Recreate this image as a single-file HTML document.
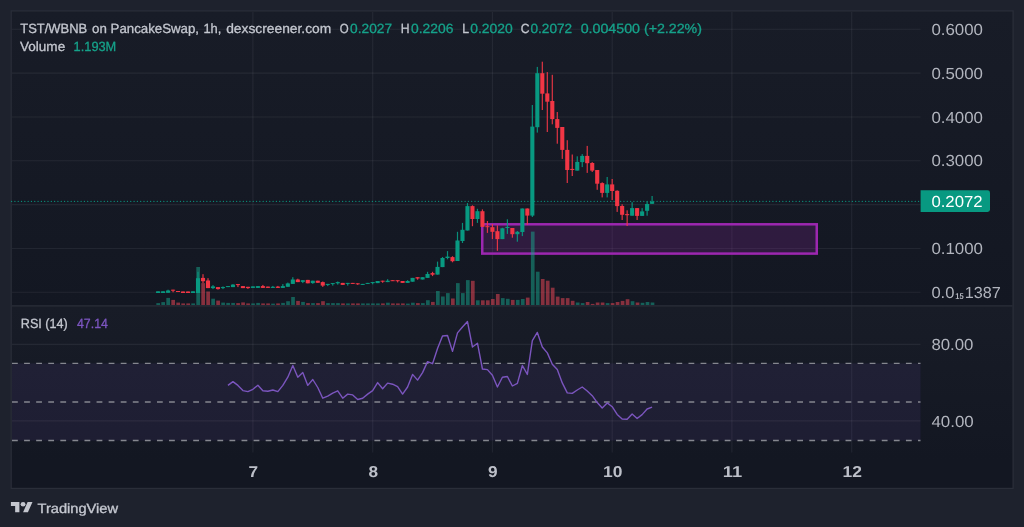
<!DOCTYPE html>
<html><head><meta charset="utf-8"><title>TST/WBNB chart</title>
<style>html,body{margin:0;padding:0;background:#1e222d;overflow:hidden}svg{display:block}text{font-family:"Liberation Sans",sans-serif;text-rendering:geometricPrecision}</style>
</head><body>
<svg width="1024" height="527" viewBox="0 0 1024 527">
<rect x="0" y="0" width="1024" height="527" fill="#1e222d"/>
<defs><linearGradient id="bg" x1="0" y1="0" x2="0" y2="1"><stop offset="0" stop-color="#181c27"/><stop offset="1" stop-color="#131722"/></linearGradient></defs>
<rect x="11.2" y="10.9" width="1001.7" height="294.9" fill="url(#bg)"/>
<rect x="11.2" y="305.8" width="1001.7" height="154.2" fill="url(#bg)"/>
<rect x="11.2" y="460" width="1001.7" height="28.4" fill="#131722"/>
<rect x="11.2" y="10.9" width="1001.9" height="477.5" fill="none" stroke="#2a2e39" stroke-width="1.2"/>
<g stroke="#f0f3fa" stroke-opacity="0.065" stroke-width="1.1">
<line x1="12" y1="29.3" x2="920.5" y2="29.3"/>
<line x1="12" y1="73.1" x2="920.5" y2="73.1"/>
<line x1="12" y1="117.0" x2="920.5" y2="117.0"/>
<line x1="12" y1="160.7" x2="920.5" y2="160.7"/>
<line x1="12" y1="204.6" x2="920.5" y2="204.6"/>
<line x1="12" y1="248.5" x2="920.5" y2="248.5"/>
<line x1="12" y1="292.3" x2="920.5" y2="292.3"/>
<line x1="12" y1="344.4" x2="920.5" y2="344.4"/>
<line x1="12" y1="420.9" x2="920.5" y2="420.9"/>
<line x1="252.9" y1="12" x2="252.9" y2="452.5"/>
<line x1="372.7" y1="12" x2="372.7" y2="452.5"/>
<line x1="492.4" y1="12" x2="492.4" y2="452.5"/>
<line x1="612.2" y1="12" x2="612.2" y2="452.5"/>
<line x1="731.9" y1="12" x2="731.9" y2="452.5"/>
<line x1="851.7" y1="12" x2="851.7" y2="452.5"/>
</g>
<line x1="12" y1="305.8" x2="1012.5" y2="305.8" stroke="#2a2e39" stroke-width="1.3"/>
<rect x="12" y="363.4" width="908.5" height="77.1" fill="#7e57c2" fill-opacity="0.1"/>
<g stroke="#85878f" stroke-width="1.3" stroke-dasharray="5.8 6.28">
<line x1="12" y1="363.4" x2="920.5" y2="363.4"/>
<line x1="12" y1="402.0" x2="920.5" y2="402.0"/>
<line x1="12" y1="440.5" x2="920.5" y2="440.5"/>
</g>
<rect x="482.25" y="224.3" width="334.5" height="29.3" fill="#9c27b0" fill-opacity="0.2" stroke="#9c27b0" stroke-width="2.5"/>
<rect x="156.34" y="303.1" width="3.7" height="1.9" fill="#18a78e" fill-opacity="0.5"/>
<rect x="161.33" y="302.1" width="3.7" height="2.9" fill="#18a78e" fill-opacity="0.5"/>
<rect x="166.33" y="297.9" width="3.7" height="7.1" fill="#18a78e" fill-opacity="0.5"/>
<rect x="171.32" y="299.9" width="3.7" height="5.1" fill="#f94a5a" fill-opacity="0.5"/>
<rect x="176.32" y="302.6" width="3.7" height="2.4" fill="#f94a5a" fill-opacity="0.5"/>
<rect x="181.31" y="303.4" width="3.7" height="1.6" fill="#f94a5a" fill-opacity="0.5"/>
<rect x="186.30" y="303.4" width="3.7" height="1.6" fill="#f94a5a" fill-opacity="0.5"/>
<rect x="191.30" y="303.4" width="3.7" height="1.6" fill="#18a78e" fill-opacity="0.5"/>
<rect x="196.29" y="267.0" width="3.7" height="38.0" fill="#18a78e" fill-opacity="0.5"/>
<rect x="201.29" y="283.1" width="3.7" height="21.9" fill="#f94a5a" fill-opacity="0.5"/>
<rect x="206.28" y="291.5" width="3.7" height="13.5" fill="#f94a5a" fill-opacity="0.5"/>
<rect x="211.27" y="298.7" width="3.7" height="6.3" fill="#18a78e" fill-opacity="0.5"/>
<rect x="216.27" y="300.6" width="3.7" height="4.4" fill="#f94a5a" fill-opacity="0.5"/>
<rect x="221.26" y="302.6" width="3.7" height="2.4" fill="#18a78e" fill-opacity="0.5"/>
<rect x="226.26" y="302.9" width="3.7" height="2.1" fill="#18a78e" fill-opacity="0.5"/>
<rect x="231.25" y="302.9" width="3.7" height="2.1" fill="#18a78e" fill-opacity="0.5"/>
<rect x="236.24" y="303.1" width="3.7" height="1.9" fill="#f94a5a" fill-opacity="0.5"/>
<rect x="241.24" y="302.4" width="3.7" height="2.6" fill="#f94a5a" fill-opacity="0.5"/>
<rect x="246.23" y="303.4" width="3.7" height="1.6" fill="#f94a5a" fill-opacity="0.5"/>
<rect x="251.22" y="303.4" width="3.7" height="1.6" fill="#18a78e" fill-opacity="0.5"/>
<rect x="256.22" y="302.9" width="3.7" height="2.1" fill="#18a78e" fill-opacity="0.5"/>
<rect x="261.21" y="303.4" width="3.7" height="1.6" fill="#f94a5a" fill-opacity="0.5"/>
<rect x="266.21" y="303.4" width="3.7" height="1.6" fill="#f94a5a" fill-opacity="0.5"/>
<rect x="271.20" y="303.6" width="3.7" height="1.4" fill="#18a78e" fill-opacity="0.5"/>
<rect x="276.19" y="303.4" width="3.7" height="1.6" fill="#f94a5a" fill-opacity="0.5"/>
<rect x="281.19" y="302.9" width="3.7" height="2.1" fill="#18a78e" fill-opacity="0.5"/>
<rect x="286.18" y="301.2" width="3.7" height="3.8" fill="#18a78e" fill-opacity="0.5"/>
<rect x="291.18" y="297.0" width="3.7" height="8.0" fill="#18a78e" fill-opacity="0.5"/>
<rect x="296.17" y="300.9" width="3.7" height="4.1" fill="#f94a5a" fill-opacity="0.5"/>
<rect x="301.16" y="301.9" width="3.7" height="3.1" fill="#18a78e" fill-opacity="0.5"/>
<rect x="306.16" y="303.1" width="3.7" height="1.9" fill="#f94a5a" fill-opacity="0.5"/>
<rect x="311.15" y="303.1" width="3.7" height="1.9" fill="#18a78e" fill-opacity="0.5"/>
<rect x="316.15" y="303.1" width="3.7" height="1.9" fill="#f94a5a" fill-opacity="0.5"/>
<rect x="321.14" y="301.2" width="3.7" height="3.8" fill="#f94a5a" fill-opacity="0.5"/>
<rect x="326.13" y="303.1" width="3.7" height="1.9" fill="#18a78e" fill-opacity="0.5"/>
<rect x="331.13" y="303.1" width="3.7" height="1.9" fill="#18a78e" fill-opacity="0.5"/>
<rect x="336.12" y="303.1" width="3.7" height="1.9" fill="#18a78e" fill-opacity="0.5"/>
<rect x="341.12" y="303.4" width="3.7" height="1.6" fill="#f94a5a" fill-opacity="0.5"/>
<rect x="346.11" y="303.4" width="3.7" height="1.6" fill="#18a78e" fill-opacity="0.5"/>
<rect x="351.10" y="303.4" width="3.7" height="1.6" fill="#f94a5a" fill-opacity="0.5"/>
<rect x="356.10" y="303.4" width="3.7" height="1.6" fill="#f94a5a" fill-opacity="0.5"/>
<rect x="361.09" y="303.4" width="3.7" height="1.6" fill="#18a78e" fill-opacity="0.5"/>
<rect x="366.09" y="303.4" width="3.7" height="1.6" fill="#18a78e" fill-opacity="0.5"/>
<rect x="371.08" y="303.4" width="3.7" height="1.6" fill="#18a78e" fill-opacity="0.5"/>
<rect x="376.07" y="303.4" width="3.7" height="1.6" fill="#18a78e" fill-opacity="0.5"/>
<rect x="381.07" y="303.4" width="3.7" height="1.6" fill="#f94a5a" fill-opacity="0.5"/>
<rect x="386.06" y="302.7" width="3.7" height="2.3" fill="#18a78e" fill-opacity="0.5"/>
<rect x="391.06" y="303.4" width="3.7" height="1.6" fill="#f94a5a" fill-opacity="0.5"/>
<rect x="396.05" y="303.4" width="3.7" height="1.6" fill="#f94a5a" fill-opacity="0.5"/>
<rect x="401.04" y="303.4" width="3.7" height="1.6" fill="#f94a5a" fill-opacity="0.5"/>
<rect x="406.04" y="303.6" width="3.7" height="1.4" fill="#18a78e" fill-opacity="0.5"/>
<rect x="411.03" y="302.7" width="3.7" height="2.3" fill="#18a78e" fill-opacity="0.5"/>
<rect x="416.03" y="303.1" width="3.7" height="1.9" fill="#f94a5a" fill-opacity="0.5"/>
<rect x="421.02" y="303.1" width="3.7" height="1.9" fill="#18a78e" fill-opacity="0.5"/>
<rect x="426.01" y="300.2" width="3.7" height="4.8" fill="#18a78e" fill-opacity="0.5"/>
<rect x="431.01" y="301.9" width="3.7" height="3.1" fill="#f94a5a" fill-opacity="0.5"/>
<rect x="436.00" y="291.0" width="3.7" height="14.0" fill="#18a78e" fill-opacity="0.5"/>
<rect x="441.00" y="296.5" width="3.7" height="8.5" fill="#18a78e" fill-opacity="0.5"/>
<rect x="445.99" y="293.1" width="3.7" height="11.9" fill="#18a78e" fill-opacity="0.5"/>
<rect x="450.98" y="298.5" width="3.7" height="6.5" fill="#f94a5a" fill-opacity="0.5"/>
<rect x="455.98" y="283.1" width="3.7" height="21.9" fill="#18a78e" fill-opacity="0.5"/>
<rect x="460.97" y="293.1" width="3.7" height="11.9" fill="#18a78e" fill-opacity="0.5"/>
<rect x="465.96" y="280.1" width="3.7" height="24.9" fill="#18a78e" fill-opacity="0.5"/>
<rect x="470.96" y="280.8" width="3.7" height="24.2" fill="#f94a5a" fill-opacity="0.5"/>
<rect x="475.95" y="300.3" width="3.7" height="4.7" fill="#18a78e" fill-opacity="0.5"/>
<rect x="480.95" y="300.3" width="3.7" height="4.7" fill="#f94a5a" fill-opacity="0.5"/>
<rect x="485.94" y="300.3" width="3.7" height="4.7" fill="#f94a5a" fill-opacity="0.5"/>
<rect x="490.93" y="299.0" width="3.7" height="6.0" fill="#f94a5a" fill-opacity="0.5"/>
<rect x="495.93" y="294.0" width="3.7" height="11.0" fill="#f94a5a" fill-opacity="0.5"/>
<rect x="500.92" y="298.1" width="3.7" height="6.9" fill="#18a78e" fill-opacity="0.5"/>
<rect x="505.92" y="298.8" width="3.7" height="6.2" fill="#18a78e" fill-opacity="0.5"/>
<rect x="510.91" y="299.9" width="3.7" height="5.1" fill="#f94a5a" fill-opacity="0.5"/>
<rect x="515.90" y="299.9" width="3.7" height="5.1" fill="#18a78e" fill-opacity="0.5"/>
<rect x="520.90" y="299.0" width="3.7" height="6.0" fill="#18a78e" fill-opacity="0.5"/>
<rect x="525.89" y="297.6" width="3.7" height="7.4" fill="#f94a5a" fill-opacity="0.5"/>
<rect x="530.89" y="231.6" width="3.7" height="73.4" fill="#18a78e" fill-opacity="0.5"/>
<rect x="535.88" y="271.7" width="3.7" height="33.3" fill="#18a78e" fill-opacity="0.5"/>
<rect x="540.87" y="279.0" width="3.7" height="26.0" fill="#f94a5a" fill-opacity="0.5"/>
<rect x="545.86" y="280.7" width="3.7" height="24.3" fill="#f94a5a" fill-opacity="0.5"/>
<rect x="550.85" y="287.7" width="3.7" height="17.3" fill="#f94a5a" fill-opacity="0.5"/>
<rect x="555.84" y="296.6" width="3.7" height="8.4" fill="#f94a5a" fill-opacity="0.5"/>
<rect x="560.83" y="298.1" width="3.7" height="6.9" fill="#f94a5a" fill-opacity="0.5"/>
<rect x="565.82" y="298.1" width="3.7" height="6.9" fill="#f94a5a" fill-opacity="0.5"/>
<rect x="570.81" y="300.8" width="3.7" height="4.2" fill="#f94a5a" fill-opacity="0.5"/>
<rect x="575.80" y="302.5" width="3.7" height="2.5" fill="#18a78e" fill-opacity="0.5"/>
<rect x="580.79" y="303.1" width="3.7" height="1.9" fill="#18a78e" fill-opacity="0.5"/>
<rect x="585.78" y="302.0" width="3.7" height="3.0" fill="#f94a5a" fill-opacity="0.5"/>
<rect x="590.77" y="303.9" width="3.7" height="1.1" fill="#f94a5a" fill-opacity="0.5"/>
<rect x="595.76" y="302.5" width="3.7" height="2.5" fill="#f94a5a" fill-opacity="0.5"/>
<rect x="600.75" y="302.5" width="3.7" height="2.5" fill="#f94a5a" fill-opacity="0.5"/>
<rect x="605.74" y="303.1" width="3.7" height="1.9" fill="#18a78e" fill-opacity="0.5"/>
<rect x="610.73" y="303.1" width="3.7" height="1.9" fill="#f94a5a" fill-opacity="0.5"/>
<rect x="615.72" y="302.0" width="3.7" height="3.0" fill="#f94a5a" fill-opacity="0.5"/>
<rect x="620.71" y="300.9" width="3.7" height="4.1" fill="#f94a5a" fill-opacity="0.5"/>
<rect x="625.70" y="299.2" width="3.7" height="5.8" fill="#f94a5a" fill-opacity="0.5"/>
<rect x="630.69" y="301.2" width="3.7" height="3.8" fill="#18a78e" fill-opacity="0.5"/>
<rect x="635.68" y="302.5" width="3.7" height="2.5" fill="#f94a5a" fill-opacity="0.5"/>
<rect x="640.67" y="302.8" width="3.7" height="2.2" fill="#18a78e" fill-opacity="0.5"/>
<rect x="645.66" y="302.0" width="3.7" height="3.0" fill="#18a78e" fill-opacity="0.5"/>
<rect x="650.65" y="302.5" width="3.7" height="2.5" fill="#18a78e" fill-opacity="0.5"/>
<line x1="11.6" y1="201.35" x2="920.5" y2="201.35" stroke="#089981" stroke-width="1.35" stroke-linecap="round" stroke-dasharray="0.01 3.3"/>
<rect x="157.49" y="291.3" width="1.2" height="1.7" fill="#089981" fill-opacity="0.92"/>
<rect x="156.04" y="291.3" width="4.1" height="1.7" fill="#089981"/>
<rect x="162.48" y="291.3" width="1.2" height="1.7" fill="#089981" fill-opacity="0.92"/>
<rect x="161.03" y="291.3" width="4.1" height="1.7" fill="#089981"/>
<rect x="167.47" y="289.7" width="1.2" height="3.1" fill="#089981" fill-opacity="0.92"/>
<rect x="166.02" y="290.5" width="4.1" height="2.3" fill="#089981"/>
<rect x="172.46" y="289.7" width="1.2" height="2.6" fill="#f23645" fill-opacity="0.92"/>
<rect x="171.01" y="289.7" width="4.1" height="1.0" fill="#f23645"/>
<rect x="177.45" y="291.0" width="1.2" height="1.0" fill="#f23645" fill-opacity="0.92"/>
<rect x="176.00" y="291.0" width="4.1" height="1.0" fill="#f23645"/>
<rect x="182.44" y="291.5" width="1.2" height="1.5" fill="#f23645" fill-opacity="0.92"/>
<rect x="180.99" y="291.5" width="4.1" height="1.5" fill="#f23645"/>
<rect x="187.43" y="291.5" width="1.2" height="1.5" fill="#f23645" fill-opacity="0.92"/>
<rect x="185.98" y="291.5" width="4.1" height="1.5" fill="#f23645"/>
<rect x="192.42" y="291.3" width="1.2" height="1.7" fill="#089981" fill-opacity="0.92"/>
<rect x="190.97" y="291.3" width="4.1" height="1.7" fill="#089981"/>
<rect x="197.41" y="271.8" width="1.2" height="21.2" fill="#089981" fill-opacity="0.92"/>
<rect x="195.96" y="278.2" width="4.1" height="14.8" fill="#089981"/>
<rect x="202.40" y="274.2" width="1.2" height="8.9" fill="#f23645" fill-opacity="0.92"/>
<rect x="200.95" y="277.9" width="4.1" height="3.3" fill="#f23645"/>
<rect x="207.39" y="278.2" width="1.2" height="9.9" fill="#f23645" fill-opacity="0.92"/>
<rect x="205.94" y="280.5" width="4.1" height="7.6" fill="#f23645"/>
<rect x="212.38" y="285.1" width="1.2" height="4.0" fill="#089981" fill-opacity="0.92"/>
<rect x="210.93" y="286.4" width="4.1" height="1.7" fill="#089981"/>
<rect x="217.37" y="287.1" width="1.2" height="2.5" fill="#f23645" fill-opacity="0.92"/>
<rect x="215.92" y="287.1" width="4.1" height="2.0" fill="#f23645"/>
<rect x="222.36" y="286.4" width="1.2" height="2.7" fill="#089981" fill-opacity="0.92"/>
<rect x="220.91" y="287.1" width="4.1" height="1.0" fill="#089981"/>
<rect x="227.35" y="286.1" width="1.2" height="1.0" fill="#089981" fill-opacity="0.92"/>
<rect x="225.90" y="286.1" width="4.1" height="1.0" fill="#089981"/>
<rect x="232.34" y="284.1" width="1.2" height="3.0" fill="#089981" fill-opacity="0.92"/>
<rect x="230.89" y="284.6" width="4.1" height="2.5" fill="#089981"/>
<rect x="237.33" y="284.1" width="1.2" height="3.0" fill="#f23645" fill-opacity="0.92"/>
<rect x="235.88" y="284.1" width="4.1" height="1.0" fill="#f23645"/>
<rect x="242.32" y="286.1" width="1.2" height="2.0" fill="#f23645" fill-opacity="0.92"/>
<rect x="240.87" y="286.1" width="4.1" height="2.0" fill="#f23645"/>
<rect x="247.31" y="286.8" width="1.2" height="2.1" fill="#f23645" fill-opacity="0.92"/>
<rect x="245.86" y="286.8" width="4.1" height="1.3" fill="#f23645"/>
<rect x="252.30" y="286.4" width="1.2" height="1.5" fill="#089981" fill-opacity="0.92"/>
<rect x="250.85" y="286.4" width="4.1" height="1.5" fill="#089981"/>
<rect x="257.29" y="286.1" width="1.2" height="1.8" fill="#089981" fill-opacity="0.92"/>
<rect x="255.84" y="286.1" width="4.1" height="1.8" fill="#089981"/>
<rect x="262.28" y="284.9" width="1.2" height="3.0" fill="#f23645" fill-opacity="0.92"/>
<rect x="260.83" y="286.1" width="4.1" height="1.8" fill="#f23645"/>
<rect x="267.27" y="286.6" width="1.2" height="1.3" fill="#f23645" fill-opacity="0.92"/>
<rect x="265.82" y="286.6" width="4.1" height="1.3" fill="#f23645"/>
<rect x="272.26" y="285.9" width="1.2" height="2.0" fill="#089981" fill-opacity="0.92"/>
<rect x="270.81" y="286.8" width="4.1" height="1.1" fill="#089981"/>
<rect x="277.25" y="285.9" width="1.2" height="2.0" fill="#f23645" fill-opacity="0.92"/>
<rect x="275.80" y="286.6" width="4.1" height="1.3" fill="#f23645"/>
<rect x="282.24" y="284.1" width="1.2" height="3.8" fill="#089981" fill-opacity="0.92"/>
<rect x="280.79" y="286.1" width="4.1" height="1.8" fill="#089981"/>
<rect x="287.23" y="282.6" width="1.2" height="4.2" fill="#089981" fill-opacity="0.92"/>
<rect x="285.78" y="283.4" width="4.1" height="3.4" fill="#089981"/>
<rect x="292.22" y="277.2" width="1.2" height="6.7" fill="#089981" fill-opacity="0.92"/>
<rect x="290.77" y="279.5" width="4.1" height="4.4" fill="#089981"/>
<rect x="297.21" y="278.7" width="1.2" height="3.4" fill="#f23645" fill-opacity="0.92"/>
<rect x="295.76" y="279.5" width="4.1" height="2.6" fill="#f23645"/>
<rect x="302.20" y="280.2" width="1.2" height="2.9" fill="#089981" fill-opacity="0.92"/>
<rect x="300.75" y="280.2" width="4.1" height="1.7" fill="#089981"/>
<rect x="307.19" y="279.9" width="1.2" height="3.4" fill="#f23645" fill-opacity="0.92"/>
<rect x="305.74" y="279.9" width="4.1" height="3.4" fill="#f23645"/>
<rect x="312.18" y="280.7" width="1.2" height="3.1" fill="#089981" fill-opacity="0.92"/>
<rect x="310.73" y="280.7" width="4.1" height="2.4" fill="#089981"/>
<rect x="317.17" y="280.7" width="1.2" height="2.1" fill="#f23645" fill-opacity="0.92"/>
<rect x="315.72" y="280.7" width="4.1" height="2.1" fill="#f23645"/>
<rect x="322.16" y="281.5" width="1.2" height="5.4" fill="#f23645" fill-opacity="0.92"/>
<rect x="320.71" y="282.1" width="4.1" height="3.5" fill="#f23645"/>
<rect x="327.15" y="283.9" width="1.2" height="2.2" fill="#089981" fill-opacity="0.92"/>
<rect x="325.70" y="283.9" width="4.1" height="1.0" fill="#089981"/>
<rect x="332.14" y="283.1" width="1.2" height="2.5" fill="#089981" fill-opacity="0.92"/>
<rect x="330.69" y="283.1" width="4.1" height="1.0" fill="#089981"/>
<rect x="337.13" y="281.5" width="1.2" height="3.1" fill="#089981" fill-opacity="0.92"/>
<rect x="335.68" y="282.1" width="4.1" height="1.2" fill="#089981"/>
<rect x="342.12" y="282.9" width="1.2" height="2.0" fill="#f23645" fill-opacity="0.92"/>
<rect x="340.67" y="282.9" width="4.1" height="2.0" fill="#f23645"/>
<rect x="347.11" y="282.9" width="1.2" height="2.7" fill="#089981" fill-opacity="0.92"/>
<rect x="345.66" y="282.9" width="4.1" height="1.0" fill="#089981"/>
<rect x="352.10" y="282.9" width="1.2" height="1.0" fill="#f23645" fill-opacity="0.92"/>
<rect x="350.65" y="282.9" width="4.1" height="1.0" fill="#f23645"/>
<rect x="357.09" y="283.3" width="1.2" height="1.6" fill="#f23645" fill-opacity="0.92"/>
<rect x="355.64" y="283.3" width="4.1" height="1.0" fill="#f23645"/>
<rect x="362.08" y="283.9" width="1.2" height="1.0" fill="#089981" fill-opacity="0.92"/>
<rect x="360.63" y="283.9" width="4.1" height="1.0" fill="#089981"/>
<rect x="367.07" y="282.9" width="1.2" height="1.0" fill="#089981" fill-opacity="0.92"/>
<rect x="365.62" y="282.9" width="4.1" height="1.0" fill="#089981"/>
<rect x="372.06" y="282.1" width="1.2" height="2.2" fill="#089981" fill-opacity="0.92"/>
<rect x="370.61" y="282.1" width="4.1" height="1.0" fill="#089981"/>
<rect x="377.05" y="281.0" width="1.2" height="2.1" fill="#089981" fill-opacity="0.92"/>
<rect x="375.60" y="281.0" width="4.1" height="2.1" fill="#089981"/>
<rect x="382.04" y="280.7" width="1.2" height="2.1" fill="#f23645" fill-opacity="0.92"/>
<rect x="380.59" y="280.7" width="4.1" height="1.0" fill="#f23645"/>
<rect x="387.03" y="279.2" width="1.2" height="2.9" fill="#089981" fill-opacity="0.92"/>
<rect x="385.58" y="280.7" width="4.1" height="1.4" fill="#089981"/>
<rect x="392.02" y="280.2" width="1.2" height="0.8" fill="#f23645" fill-opacity="0.92"/>
<rect x="390.57" y="280.2" width="4.1" height="1.0" fill="#f23645"/>
<rect x="397.01" y="280.2" width="1.2" height="2.2" fill="#f23645" fill-opacity="0.92"/>
<rect x="395.56" y="280.2" width="4.1" height="1.0" fill="#f23645"/>
<rect x="402.00" y="281.0" width="1.2" height="1.9" fill="#f23645" fill-opacity="0.92"/>
<rect x="400.55" y="281.0" width="4.1" height="1.9" fill="#f23645"/>
<rect x="406.99" y="280.2" width="1.2" height="2.7" fill="#089981" fill-opacity="0.92"/>
<rect x="405.54" y="281.0" width="4.1" height="1.9" fill="#089981"/>
<rect x="411.98" y="277.9" width="1.2" height="3.8" fill="#089981" fill-opacity="0.92"/>
<rect x="410.53" y="277.9" width="4.1" height="3.8" fill="#089981"/>
<rect x="416.97" y="277.2" width="1.2" height="2.5" fill="#f23645" fill-opacity="0.92"/>
<rect x="415.52" y="277.2" width="4.1" height="1.3" fill="#f23645"/>
<rect x="421.96" y="277.2" width="1.2" height="2.3" fill="#089981" fill-opacity="0.92"/>
<rect x="420.51" y="277.2" width="4.1" height="2.3" fill="#089981"/>
<rect x="426.95" y="271.8" width="1.2" height="6.1" fill="#089981" fill-opacity="0.92"/>
<rect x="425.50" y="274.0" width="4.1" height="3.9" fill="#089981"/>
<rect x="431.94" y="271.8" width="1.2" height="4.3" fill="#f23645" fill-opacity="0.92"/>
<rect x="430.49" y="273.1" width="4.1" height="1.6" fill="#f23645"/>
<rect x="436.93" y="261.6" width="1.2" height="13.0" fill="#089981" fill-opacity="0.92"/>
<rect x="435.48" y="266.9" width="4.1" height="7.7" fill="#089981"/>
<rect x="441.92" y="257.0" width="1.2" height="10.1" fill="#089981" fill-opacity="0.92"/>
<rect x="440.47" y="258.0" width="4.1" height="9.1" fill="#089981"/>
<rect x="446.91" y="251.1" width="1.2" height="8.2" fill="#089981" fill-opacity="0.92"/>
<rect x="445.46" y="256.6" width="4.1" height="1.4" fill="#089981"/>
<rect x="451.90" y="256.2" width="1.2" height="6.1" fill="#f23645" fill-opacity="0.92"/>
<rect x="450.45" y="257.1" width="4.1" height="4.1" fill="#f23645"/>
<rect x="456.89" y="231.8" width="1.2" height="29.2" fill="#089981" fill-opacity="0.92"/>
<rect x="455.44" y="240.5" width="4.1" height="20.5" fill="#089981"/>
<rect x="461.88" y="222.9" width="1.2" height="20.1" fill="#089981" fill-opacity="0.92"/>
<rect x="460.43" y="229.8" width="4.1" height="11.2" fill="#089981"/>
<rect x="466.87" y="203.1" width="1.2" height="27.4" fill="#089981" fill-opacity="0.92"/>
<rect x="465.42" y="206.1" width="4.1" height="24.4" fill="#089981"/>
<rect x="471.86" y="205.3" width="1.2" height="20.9" fill="#f23645" fill-opacity="0.92"/>
<rect x="470.41" y="206.1" width="4.1" height="12.9" fill="#f23645"/>
<rect x="476.85" y="208.8" width="1.2" height="14.1" fill="#089981" fill-opacity="0.92"/>
<rect x="475.40" y="211.2" width="4.1" height="7.8" fill="#089981"/>
<rect x="481.84" y="209.4" width="1.2" height="17.5" fill="#f23645" fill-opacity="0.92"/>
<rect x="480.39" y="211.2" width="4.1" height="15.7" fill="#f23645"/>
<rect x="486.83" y="221.0" width="1.2" height="11.9" fill="#f23645" fill-opacity="0.92"/>
<rect x="485.38" y="226.2" width="4.1" height="1.0" fill="#f23645"/>
<rect x="491.82" y="224.0" width="1.2" height="15.1" fill="#f23645" fill-opacity="0.92"/>
<rect x="490.37" y="227.2" width="4.1" height="4.6" fill="#f23645"/>
<rect x="496.81" y="225.3" width="1.2" height="25.5" fill="#f23645" fill-opacity="0.92"/>
<rect x="495.36" y="231.2" width="4.1" height="7.9" fill="#f23645"/>
<rect x="501.80" y="227.8" width="1.2" height="11.3" fill="#089981" fill-opacity="0.92"/>
<rect x="500.35" y="228.3" width="4.1" height="10.8" fill="#089981"/>
<rect x="506.79" y="219.3" width="1.2" height="14.6" fill="#089981" fill-opacity="0.92"/>
<rect x="505.34" y="226.9" width="4.1" height="1.1" fill="#089981"/>
<rect x="511.78" y="228.0" width="1.2" height="9.7" fill="#f23645" fill-opacity="0.92"/>
<rect x="510.33" y="228.0" width="4.1" height="6.2" fill="#f23645"/>
<rect x="516.77" y="231.0" width="1.2" height="10.7" fill="#089981" fill-opacity="0.92"/>
<rect x="515.32" y="231.8" width="4.1" height="2.4" fill="#089981"/>
<rect x="521.76" y="208.5" width="1.2" height="27.6" fill="#089981" fill-opacity="0.92"/>
<rect x="520.31" y="208.5" width="4.1" height="23.5" fill="#089981"/>
<rect x="526.75" y="208.5" width="1.2" height="16.2" fill="#f23645" fill-opacity="0.92"/>
<rect x="525.30" y="208.5" width="4.1" height="7.1" fill="#f23645"/>
<rect x="531.74" y="105.0" width="1.2" height="112.0" fill="#089981" fill-opacity="0.92"/>
<rect x="530.29" y="126.6" width="4.1" height="89.0" fill="#089981"/>
<rect x="536.73" y="66.9" width="1.2" height="65.7" fill="#089981" fill-opacity="0.92"/>
<rect x="535.28" y="73.2" width="4.1" height="54.0" fill="#089981"/>
<rect x="541.72" y="61.7" width="1.2" height="48.3" fill="#f23645" fill-opacity="0.92"/>
<rect x="540.27" y="73.2" width="4.1" height="20.5" fill="#f23645"/>
<rect x="546.71" y="72.1" width="1.2" height="59.9" fill="#f23645" fill-opacity="0.92"/>
<rect x="545.26" y="93.4" width="4.1" height="8.3" fill="#f23645"/>
<rect x="551.70" y="74.8" width="1.2" height="49.5" fill="#f23645" fill-opacity="0.92"/>
<rect x="550.25" y="101.0" width="4.1" height="18.1" fill="#f23645"/>
<rect x="556.69" y="112.0" width="1.2" height="31.7" fill="#f23645" fill-opacity="0.92"/>
<rect x="555.24" y="119.1" width="4.1" height="8.8" fill="#f23645"/>
<rect x="561.68" y="127.0" width="1.2" height="31.9" fill="#f23645" fill-opacity="0.92"/>
<rect x="560.23" y="127.0" width="4.1" height="22.9" fill="#f23645"/>
<rect x="566.67" y="140.2" width="1.2" height="42.8" fill="#f23645" fill-opacity="0.92"/>
<rect x="565.22" y="149.9" width="4.1" height="20.1" fill="#f23645"/>
<rect x="571.66" y="154.5" width="1.2" height="21.5" fill="#f23645" fill-opacity="0.92"/>
<rect x="570.21" y="168.9" width="4.1" height="1.1" fill="#f23645"/>
<rect x="576.65" y="156.3" width="1.2" height="14.3" fill="#089981" fill-opacity="0.92"/>
<rect x="575.20" y="161.9" width="4.1" height="8.7" fill="#089981"/>
<rect x="581.64" y="154.1" width="1.2" height="13.0" fill="#089981" fill-opacity="0.92"/>
<rect x="580.19" y="155.9" width="4.1" height="6.2" fill="#089981"/>
<rect x="586.63" y="145.9" width="1.2" height="27.0" fill="#f23645" fill-opacity="0.92"/>
<rect x="585.18" y="155.9" width="4.1" height="7.3" fill="#f23645"/>
<rect x="591.62" y="162.1" width="1.2" height="9.9" fill="#f23645" fill-opacity="0.92"/>
<rect x="590.17" y="163.0" width="4.1" height="7.6" fill="#f23645"/>
<rect x="596.61" y="170.0" width="1.2" height="19.8" fill="#f23645" fill-opacity="0.92"/>
<rect x="595.16" y="170.0" width="4.1" height="13.7" fill="#f23645"/>
<rect x="601.60" y="182.3" width="1.2" height="15.1" fill="#f23645" fill-opacity="0.92"/>
<rect x="600.15" y="183.1" width="4.1" height="9.8" fill="#f23645"/>
<rect x="606.59" y="177.0" width="1.2" height="20.4" fill="#089981" fill-opacity="0.92"/>
<rect x="605.14" y="184.4" width="4.1" height="8.5" fill="#089981"/>
<rect x="611.58" y="179.0" width="1.2" height="21.0" fill="#f23645" fill-opacity="0.92"/>
<rect x="610.13" y="184.4" width="4.1" height="6.6" fill="#f23645"/>
<rect x="616.57" y="190.3" width="1.2" height="21.6" fill="#f23645" fill-opacity="0.92"/>
<rect x="615.12" y="190.8" width="4.1" height="15.3" fill="#f23645"/>
<rect x="621.56" y="204.3" width="1.2" height="15.7" fill="#f23645" fill-opacity="0.92"/>
<rect x="620.11" y="206.0" width="4.1" height="8.8" fill="#f23645"/>
<rect x="626.55" y="210.3" width="1.2" height="15.7" fill="#f23645" fill-opacity="0.92"/>
<rect x="625.10" y="214.1" width="4.1" height="1.1" fill="#f23645"/>
<rect x="631.54" y="202.2" width="1.2" height="13.5" fill="#089981" fill-opacity="0.92"/>
<rect x="630.09" y="208.1" width="4.1" height="7.6" fill="#089981"/>
<rect x="636.53" y="208.1" width="1.2" height="11.9" fill="#f23645" fill-opacity="0.92"/>
<rect x="635.08" y="208.1" width="4.1" height="7.8" fill="#f23645"/>
<rect x="641.52" y="208.1" width="1.2" height="7.8" fill="#089981" fill-opacity="0.92"/>
<rect x="640.07" y="211.4" width="4.1" height="4.5" fill="#089981"/>
<rect x="646.51" y="201.4" width="1.2" height="14.3" fill="#089981" fill-opacity="0.92"/>
<rect x="645.06" y="204.0" width="4.1" height="6.8" fill="#089981"/>
<rect x="651.50" y="196.0" width="1.2" height="7.8" fill="#089981" fill-opacity="0.92"/>
<rect x="650.05" y="201.6" width="4.1" height="2.2" fill="#089981"/>
<polyline points="227.95,385.4 232.94,381.6 237.93,385.4 242.92,390.6 247.91,391.6 252.90,389.3 257.89,385.2 262.88,390.8 267.87,391.3 272.86,390.0 277.85,391.6 282.84,385.4 287.83,377.2 292.82,365.5 297.81,377.2 302.80,372.6 307.79,385.4 312.78,379.5 317.77,387.5 322.76,398.2 327.75,396.2 332.74,393.1 337.73,390.8 342.72,398.2 347.71,394.1 352.70,394.9 357.69,399.5 362.68,398.2 367.67,394.1 372.66,390.6 377.65,382.6 382.64,388.8 387.63,383.1 392.62,384.2 397.61,386.7 402.60,394.1 407.59,387.0 412.58,374.4 417.57,380.1 422.56,372.6 427.55,361.6 432.54,363.7 437.53,348.5 442.52,336.0 447.51,335.5 452.50,351.4 457.49,332.9 462.48,327.0 467.47,321.6 472.46,347.0 477.45,343.2 482.44,369.0 487.43,369.6 492.42,375.2 497.41,387.0 502.40,377.2 507.39,376.5 512.38,386.0 517.37,383.4 522.36,365.5 527.35,374.4 532.34,340.6 537.33,332.4 542.32,347.0 547.31,352.9 552.30,364.2 557.29,369.6 562.28,382.9 567.27,392.9 572.26,393.4 577.25,390.0 582.24,387.0 587.23,391.0 592.22,395.7 597.21,402.6 602.20,408.0 607.19,402.9 612.18,406.7 617.17,414.4 622.16,419.0 627.15,419.2 632.14,413.9 637.13,418.5 642.12,414.6 647.11,409.0 652.10,407.2" fill="none" stroke="#7b55be" stroke-width="1.4" stroke-linejoin="round"/>
<path d="M920.6 190.3H987.6Q990 190.3 990 192.7V209.5Q990 211.9 987.6 211.9H920.6Z" fill="#089981"/>
<g opacity="0.999">
<text x="931.4" y="35.0" font-size="16.0" fill="#b2b5be" textLength="51.5" lengthAdjust="spacingAndGlyphs">0.6000</text>
<text x="931.4" y="78.8" font-size="16.0" fill="#b2b5be" textLength="51.5" lengthAdjust="spacingAndGlyphs">0.5000</text>
<text x="931.4" y="122.7" font-size="16.0" fill="#b2b5be" textLength="51.5" lengthAdjust="spacingAndGlyphs">0.4000</text>
<text x="931.4" y="166.4" font-size="16.0" fill="#b2b5be" textLength="51.5" lengthAdjust="spacingAndGlyphs">0.3000</text>
<text x="931.4" y="254.2" font-size="16.0" fill="#b2b5be" textLength="51.5" lengthAdjust="spacingAndGlyphs">0.1000</text>
<text x="931.4" y="206.9" font-size="16.0" fill="#ffffff" textLength="51.2" lengthAdjust="spacingAndGlyphs">0.2072</text>
<text x="931.4" y="297.6" font-size="16.0" fill="#b2b5be" textLength="23.0" lengthAdjust="spacingAndGlyphs">0.0</text>
<text x="955.2" y="298.8" font-size="8.4" fill="#b2b5be" textLength="8.4" lengthAdjust="spacingAndGlyphs" font-weight="bold">15</text>
<text x="964.8" y="297.6" font-size="16.0" fill="#b2b5be" textLength="36.0" lengthAdjust="spacingAndGlyphs">1387</text>
<text x="931.4" y="349.7" font-size="16.0" fill="#b2b5be" textLength="42.0" lengthAdjust="spacingAndGlyphs">80.00</text>
<text x="931.4" y="427.1" font-size="16.0" fill="#b2b5be" textLength="42.3" lengthAdjust="spacingAndGlyphs">40.00</text>
<text x="248.6" y="476.7" font-size="15.8" fill="#bec1ca" textLength="9.6" lengthAdjust="spacingAndGlyphs" font-weight="bold">7</text>
<text x="368.4" y="476.7" font-size="15.8" fill="#bec1ca" textLength="9.6" lengthAdjust="spacingAndGlyphs" font-weight="bold">8</text>
<text x="488.1" y="476.7" font-size="15.8" fill="#bec1ca" textLength="9.6" lengthAdjust="spacingAndGlyphs" font-weight="bold">9</text>
<text x="603.0" y="476.7" font-size="15.8" fill="#bec1ca" textLength="19.4" lengthAdjust="spacingAndGlyphs" font-weight="bold">10</text>
<text x="722.7" y="476.7" font-size="15.8" fill="#bec1ca" textLength="19.4" lengthAdjust="spacingAndGlyphs" font-weight="bold">11</text>
<text x="842.5" y="476.7" font-size="15.8" fill="#bec1ca" textLength="19.4" lengthAdjust="spacingAndGlyphs" font-weight="bold">12</text>
<text x="20.3" y="33.1" font-size="13.3" fill="#c5c8d0" textLength="66.9" lengthAdjust="spacingAndGlyphs" stroke="#c5c8d0" stroke-width="0.30">TST/WBNB</text>
<text x="92.0" y="33.1" font-size="13.3" fill="#c5c8d0" textLength="14.8" lengthAdjust="spacingAndGlyphs" stroke="#c5c8d0" stroke-width="0.30">on</text>
<text x="110.6" y="33.1" font-size="13.3" fill="#c5c8d0" textLength="88.4" lengthAdjust="spacingAndGlyphs" stroke="#c5c8d0" stroke-width="0.30">PancakeSwap,</text>
<text x="203.4" y="33.1" font-size="13.3" fill="#c5c8d0" textLength="18.0" lengthAdjust="spacingAndGlyphs" stroke="#c5c8d0" stroke-width="0.30">1h,</text>
<text x="226.2" y="33.1" font-size="13.3" fill="#c5c8d0" textLength="105.0" lengthAdjust="spacingAndGlyphs" stroke="#c5c8d0" stroke-width="0.30">dexscreener.com</text>
<text x="339.8" y="33.1" font-size="13.3" fill="#c5c8d0" textLength="8.9" lengthAdjust="spacingAndGlyphs" stroke="#c5c8d0" stroke-width="0.30">O</text>
<text x="350.1" y="33.1" font-size="13.3" fill="#17a38b" textLength="42.0" lengthAdjust="spacingAndGlyphs" stroke="#17a38b" stroke-width="0.30">0.2027</text>
<text x="400.7" y="33.1" font-size="13.3" fill="#c5c8d0" textLength="8.8" lengthAdjust="spacingAndGlyphs" stroke="#c5c8d0" stroke-width="0.30">H</text>
<text x="411.0" y="33.1" font-size="13.3" fill="#17a38b" textLength="42.4" lengthAdjust="spacingAndGlyphs" stroke="#17a38b" stroke-width="0.30">0.2206</text>
<text x="462.2" y="33.1" font-size="13.3" fill="#c5c8d0" textLength="6.8" lengthAdjust="spacingAndGlyphs" stroke="#c5c8d0" stroke-width="0.30">L</text>
<text x="470.2" y="33.1" font-size="13.3" fill="#17a38b" textLength="42.4" lengthAdjust="spacingAndGlyphs" stroke="#17a38b" stroke-width="0.30">0.2020</text>
<text x="520.7" y="33.1" font-size="13.3" fill="#c5c8d0" textLength="8.8" lengthAdjust="spacingAndGlyphs" stroke="#c5c8d0" stroke-width="0.30">C</text>
<text x="530.5" y="33.1" font-size="13.3" fill="#17a38b" textLength="41.6" lengthAdjust="spacingAndGlyphs" stroke="#17a38b" stroke-width="0.30">0.2072</text>
<text x="580.7" y="33.1" font-size="13.3" fill="#17a38b" textLength="121.3" lengthAdjust="spacingAndGlyphs" stroke="#17a38b" stroke-width="0.30">0.004500 (+2.22%)</text>
<text x="20.0" y="51.0" font-size="13.3" fill="#c5c8d0" textLength="45.2" lengthAdjust="spacingAndGlyphs" stroke="#c5c8d0" stroke-width="0.30">Volume</text>
<text x="73.6" y="51.0" font-size="13.3" fill="#17a38b" textLength="42.7" lengthAdjust="spacingAndGlyphs" stroke="#17a38b" stroke-width="0.30">1.193M</text>
<text x="20.8" y="328.2" font-size="13.3" fill="#c5c8d0" textLength="46.9" lengthAdjust="spacingAndGlyphs" stroke="#c5c8d0" stroke-width="0.30">RSI (14)</text>
<text x="77.0" y="328.2" font-size="13.3" fill="#7e57c2" textLength="30.9" lengthAdjust="spacingAndGlyphs" stroke="#7e57c2" stroke-width="0.30">47.14</text>
<g transform="translate(10.9,499.8) scale(0.608,0.561)" fill="#c5c8d0"><path d="M14 22H7V11H0V4h14v18zM28 22h-8l7.5-18h8L28 22z"/><circle cx="20" cy="8" r="4"/></g>
<text x="37.5" y="512.5" font-size="13.6" fill="#c5c8d0" textLength="80.6" lengthAdjust="spacingAndGlyphs" stroke="#c5c8d0" stroke-width="0.35">TradingView</text>
</g>
</svg></body></html>
